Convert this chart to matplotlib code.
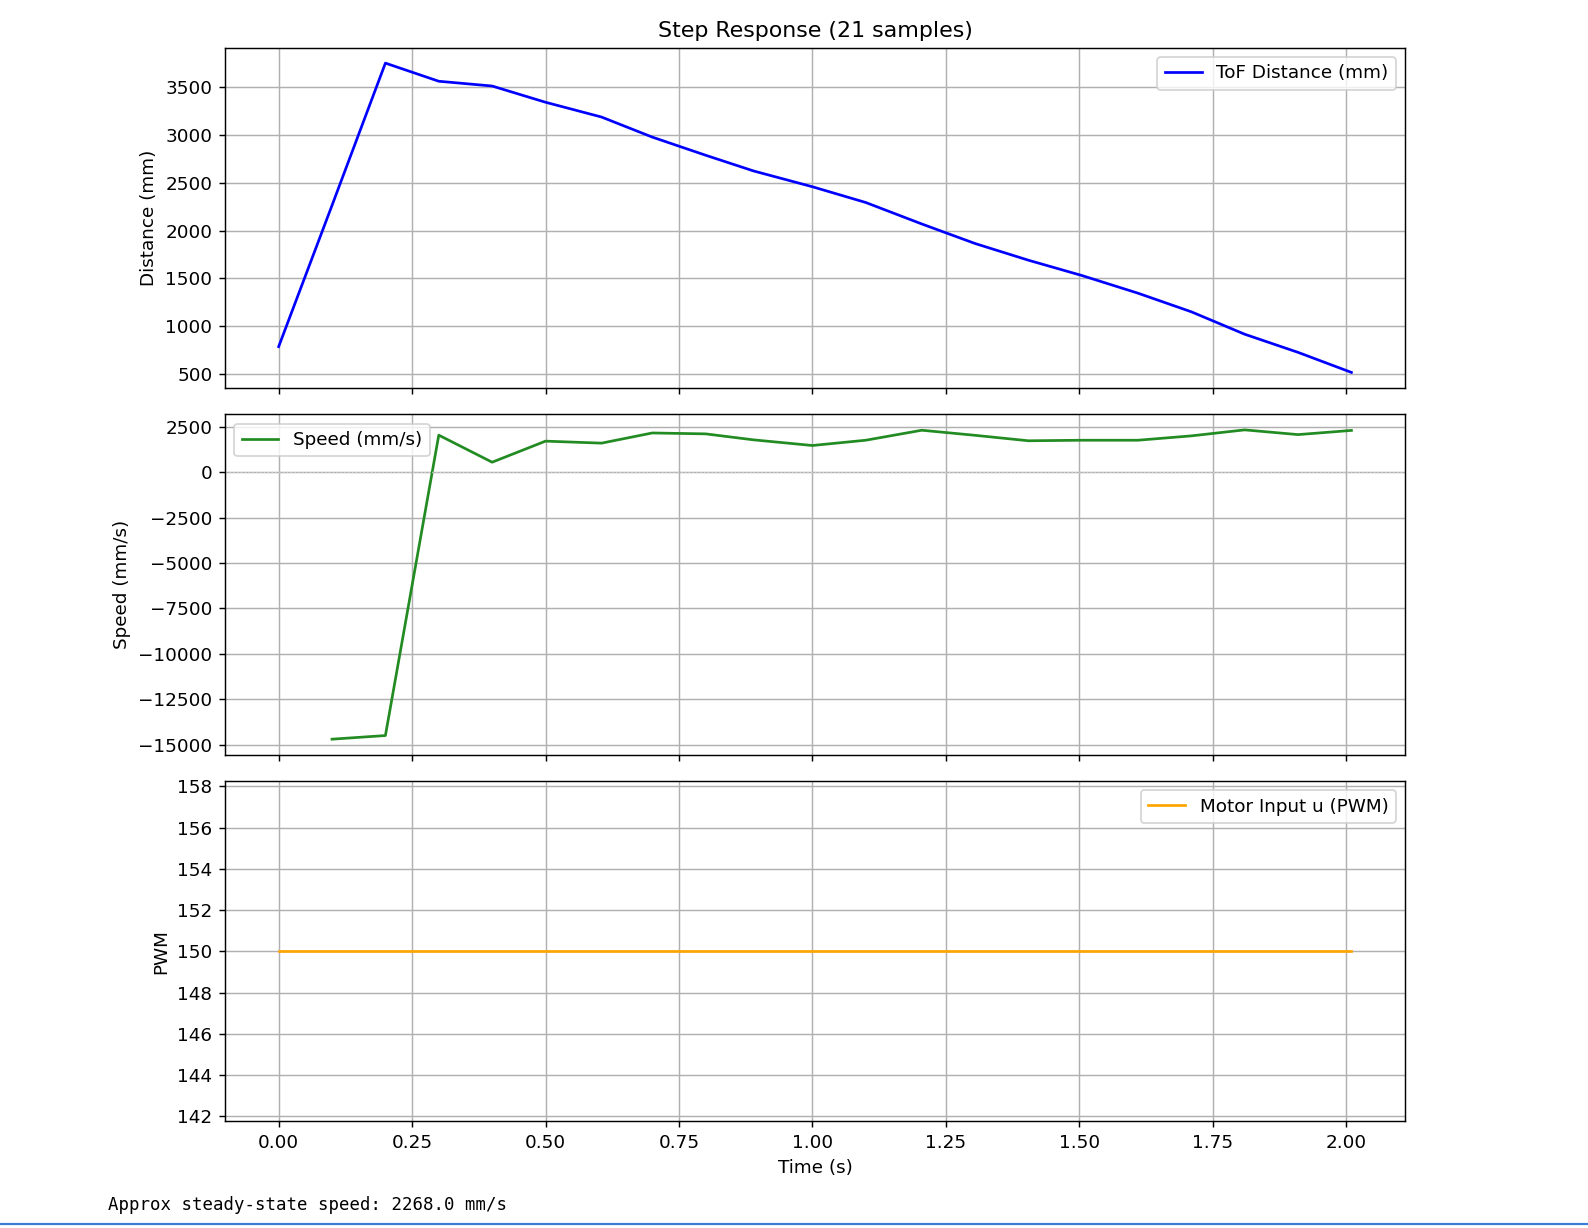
import numpy as np
import matplotlib.pyplot as plt
from matplotlib.lines import Line2D

# step response samples
t = [0.0, 0.10, 0.20, 0.30, 0.40, 0.50, 0.605, 0.70, 0.80, 0.89, 1.00,
     1.10, 1.205, 1.305, 1.405, 1.505, 1.61, 1.71, 1.81, 1.91, 2.01]
distance = [785, 2265, 3755, 3565, 3515, 3345, 3190, 2980, 2790, 2625, 2460,
            2295, 2070, 1865, 1690, 1530, 1345, 1150, 915, 725, 515]
speed = [np.nan, -14700, -14500, 2040, 550, 1710, 1600, 2160, 2110, 1780, 1470,
         1760, 2310, 2030, 1730, 1760, 1760, 2000, 2330, 2070, 2300]
pwm = [150] * 21
steady_speed = 2268.0

plt.rcParams["font.size"] = 10.2

fig, (ax1, ax2, ax3) = plt.subplots(3, 1, sharex=True, figsize=(1588 / 130, 1228 / 130), dpi=130)
fig.subplots_adjust(left=0.1417, right=0.8848, top=0.9612, bottom=0.0868, hspace=0.078)

ax1.plot(t, distance, color="blue", label="ToF Distance (mm)")
ax1.set_ylabel("Distance (mm)")
ax1.set_title(f"Step Response ({len(t)} samples)")
ax1.legend(loc="upper right")
ax1.grid()

ax2.plot(t, speed, color="forestgreen", label="Speed (mm/s)")
ax2.axhline(0, color="lightgray", linestyle=":", linewidth=0.8)
ax2.set_ylabel("Speed (mm/s)")
ax2.legend(loc="upper left")
ax2.grid()

ax3.plot(t, pwm, color="orange", label="Motor Input u (PWM)")
ax3.set_ylabel("PWM")
ax3.set_xlabel("Time (s)")
ax3.legend(loc="upper right")
ax3.grid()

# notebook output line below the figure
fig.text(108 / 1588, 1 - 1205 / 1228, f"Approx steady-state speed: {steady_speed} mm/s",
         family="DejaVu Sans Mono", fontsize=9.6, va="center", ha="left")
fig.add_artist(Line2D([0, 1], [1 - 1224 / 1228] * 2, transform=fig.transFigure,
                      color="#3a7bd5", linewidth=1.2))

fig.savefig("out.png", dpi=130)
